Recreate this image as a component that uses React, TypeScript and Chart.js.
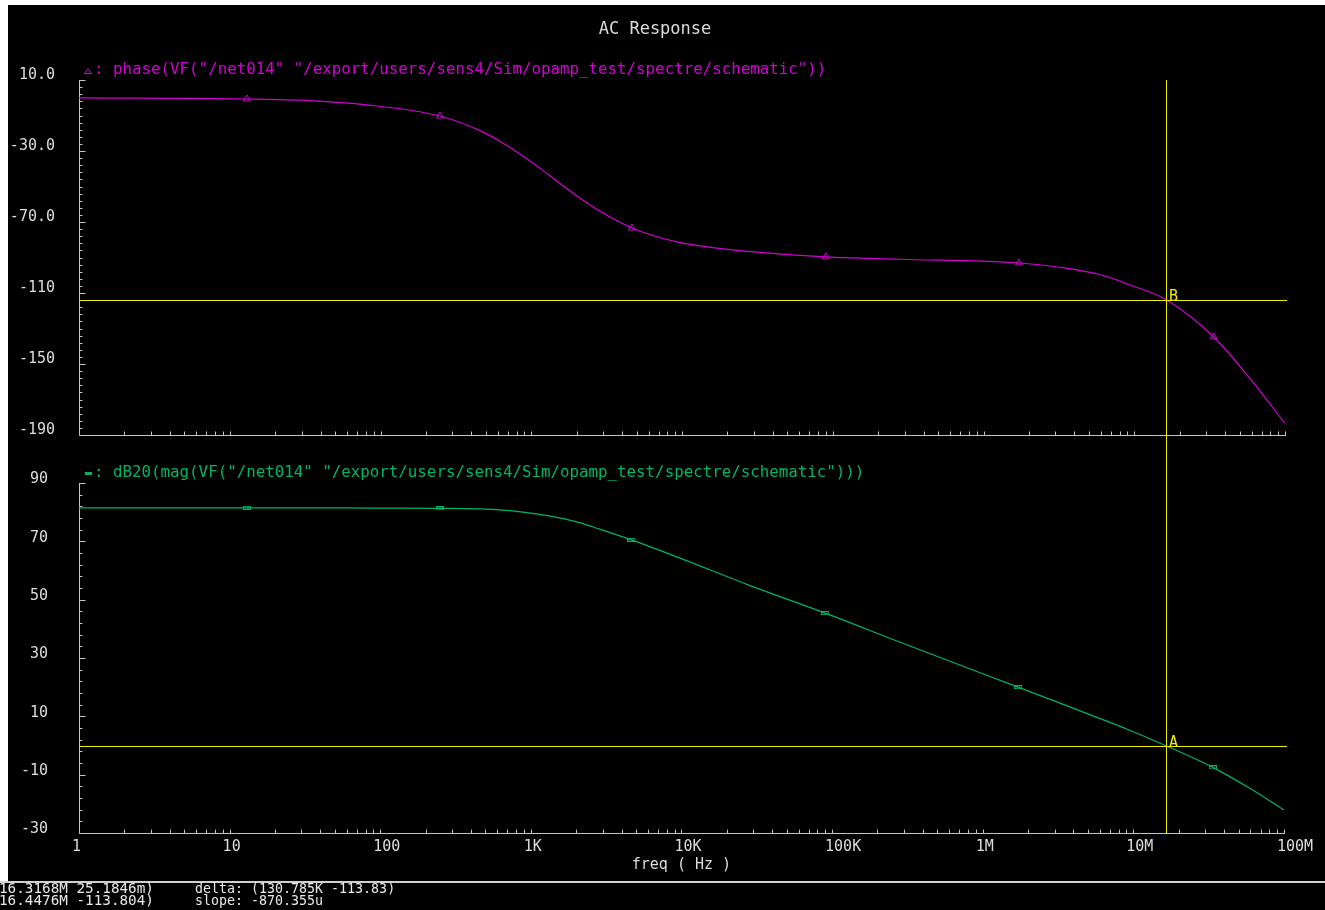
import React, { useEffect, useRef } from 'react';
import { Chart, registerables } from 'chart.js';

Chart.register(...registerables);

// ---------------- data ----------------
const freqHz = [1, 13, 34, 81, 248, 457, 620, 1000, 1330, 2100, 2860, 4660, 9600, 28000, 90000, 280000, 1720000, 3200000, 5900000, 9200000, 16316800, 33700000, 59000000, 100000000];
const phaseDeg = [-0.1, -0.7, -1.6, -4.0, -10.3, -18.5, -24.5, -36.0, -44.0, -56.5, -64.0, -73.4, -81.5, -86.6, -89.7, -91.0, -93.1, -95.5, -99.6, -105.2, -113.8, -134.8, -158.5, -183.5];
const magDb = [81.5, 81.5, 81.5, 81.4, 81.3, 81.1, 80.8, 79.7, 78.7, 76.4, 74.2, 70.5, 64.4, 55.0, 45.4, 35.5, 20.0, 14.7, 9.4, 5.5, 0.025, -7.5, -14.6, -22.1];
const markerFreqs = [13, 248, 4660, 90000, 1720000, 33700000];

const xTickValues = [1, 10, 100, 1e3, 1e4, 1e5, 1e6, 1e7, 1e8];
const xTickLabels = ['1', '10', '100', '1K', '10K', '100K', '1M', '10M', '100M'];
const phaseTicks = [10, -30, -70, -110, -150, -190];
const phaseTickLabels = ['10.0', '-30.0', '-70.0', '-110', '-150', '-190'];
const magTicks = [90, 70, 50, 30, 10, -10, -30];
const magTickLabels = ['90', '70', '50', '30', '10', '-10', '-30'];

const cursorFreq = 16316800;
const cursorPhase = -113.804;
const cursorMag = 0.0251846;

const titleText = 'AC Response';
const phaseLegend = ': phase(VF("/net014" "/export/users/sens4/Sim/opamp_test/spectre/schematic"))';
const magLegend = ': dB20(mag(VF("/net014" "/export/users/sens4/Sim/opamp_test/spectre/schematic")))';
const xTitle = 'freq ( Hz )';
const statusLeft = ['16.3168M 25.1846m)', '16.4476M -113.804)'];
const statusRight = ['delta: (130.785K -113.83)', 'slope: -870.355u'];

// ---------------- layout / style ----------------
const W = 1325;
const H = 905;
const LEFT = 79;
const RIGHT = 1285;
const PH_TOP = 75;
const PH_BOT = 430;
const MAG_TOP = 478;
const MAG_BOT = 828;
const XAXIS_H = 41;

const MONO = '"DejaVu Sans Mono", "Liberation Mono", monospace';
const AXIS_COLOR = '#c4c4c4';
const TEXT_COLOR = '#dcdcdc';
const PHASE_COLOR = '#d400d4';
const MAG_COLOR = '#00b464';
const CURSOR_COLOR = '#f0f000';

function drawAxes(chart: any, yId: string, minorStep: number, majors: number[]) {
  const ctx = chart.ctx;
  const { left, right, top, bottom } = chart.chartArea;
  const xs = chart.scales.x;
  const ys = chart.scales[yId];
  ctx.save();
  ctx.strokeStyle = AXIS_COLOR;
  ctx.lineWidth = 1;
  ctx.beginPath();
  const lx = Math.round(left) + 0.5;
  const by = Math.round(bottom) + 0.5;
  ctx.moveTo(lx, Math.round(top));
  ctx.lineTo(lx, by);
  ctx.lineTo(Math.round(right) + 1, by);
  for (let v = ys.min; v <= ys.max + 1e-9; v += minorStep) {
    const y = Math.round(ys.getPixelForValue(v)) + 0.5;
    const major = majors.some((m) => Math.abs(m - v) < 1e-6);
    ctx.moveTo(lx, y);
    ctx.lineTo(lx + (major ? 6 : 3), y);
  }
  for (let d = 0; d < xTickValues.length; d++) {
    for (let k = 1; k <= 9; k++) {
      const f = xTickValues[d] * k;
      if (f > xs.max * 1.0001) break;
      if (f === 1) continue;
      const x = Math.round(xs.getPixelForValue(f)) + 0.5;
      ctx.moveTo(x, by);
      ctx.lineTo(x, by - 4);
    }
  }
  ctx.stroke();
  ctx.restore();
}

let magChartRef: any = null;

function drawCursors(chart: any) {
  const ctx = chart.ctx;
  const { left, right, top } = chart.chartArea;
  const xs = chart.scales.x;
  const ys = chart.scales.y;
  const cx = Math.round(xs.getPixelForValue(cursorFreq));
  const cyP = Math.round(ys.getPixelForValue(cursorPhase));
  let cyM = cyP;
  let bottom = MAG_BOT;
  if (magChartRef) {
    cyM = Math.round(magChartRef.scales.y.getPixelForValue(cursorMag) + 0.5);
    bottom = magChartRef.chartArea.bottom;
  }
  const l = Math.round(left);
  const w = Math.round(right) + 2 - l;
  ctx.save();
  ctx.fillStyle = CURSOR_COLOR;
  ctx.fillRect(l, cyP, w, 1);
  ctx.fillRect(l, cyM, w, 1);
  ctx.fillRect(cx, Math.round(top), 1, Math.round(bottom) - Math.round(top));
  ctx.font = `15px ${MONO}`;
  ctx.textAlign = 'left';
  ctx.textBaseline = 'alphabetic';
  ctx.fillText('B', cx + 3, cyP + 1);
  ctx.fillText('A', cx + 3, cyM + 1);
  ctx.restore();
}

const phasePlugin = {
  id: 'phaseDecor',
  beforeDatasetsDraw(chart: any) {
    drawAxes(chart, 'y', 4, phaseTicks);
  },
  afterDatasetsDraw(chart: any) {
    const ctx = chart.ctx;
    drawCursors(chart);
    ctx.save();
    // title
    ctx.fillStyle = TEXT_COLOR;
    ctx.font = `17px ${MONO}`;
    ctx.textAlign = 'center';
    ctx.textBaseline = 'middle';
    ctx.fillText(titleText, 655, 25);

    // legend
    ctx.strokeStyle = PHASE_COLOR;
    ctx.lineWidth = 1;
    ctx.beginPath();
    ctx.moveTo(84.5, 68.5);
    ctx.lineTo(88, 63.5);
    ctx.lineTo(91.5, 68.5);
    ctx.closePath();
    ctx.stroke();
    ctx.fillStyle = PHASE_COLOR;
    ctx.font = `15.8px ${MONO}`;
    ctx.textAlign = 'left';
    ctx.textBaseline = 'alphabetic';
    ctx.fillText(phaseLegend, 94, 69);
    ctx.restore();
  },
};

const magPlugin = {
  id: 'magDecor',
  beforeDatasetsDraw(chart: any) {
    drawAxes(chart, 'y', 4, magTicks);
  },
  afterDatasetsDraw(chart: any) {
    const ctx = chart.ctx;
    ctx.save();
    // legend
    ctx.fillStyle = MAG_COLOR;
    ctx.fillRect(85, 467, 7, 3);
    ctx.font = `15.8px ${MONO}`;
    ctx.textAlign = 'left';
    ctx.textBaseline = 'alphabetic';
    ctx.fillText(magLegend, 94, 472);

    // status bar
    ctx.fillStyle = '#d0d0d0';
    ctx.fillRect(0, 876, W, 2);
    ctx.fillStyle = '#e8e8e8';
    ctx.font = `14.3px ${MONO}`;
    ctx.fillText(statusLeft[0], -1, 888);
    ctx.fillText(statusLeft[1], -1, 900);
    ctx.font = `13.3px ${MONO}`;
    ctx.fillText(statusRight[0], 195, 888);
    ctx.fillText(statusRight[1], 195, 900);
    ctx.restore();
  },
};

export default function App() {
  const phaseRef = useRef<HTMLCanvasElement>(null);
  const magRef = useRef<HTMLCanvasElement>(null);

  useEffect(() => {
    const rectMarker = document.createElement('canvas');
    rectMarker.width = 8;
    rectMarker.height = 4;
    const rc = rectMarker.getContext('2d')!;
    rc.strokeStyle = MAG_COLOR;
    rc.lineWidth = 1;
    rc.strokeRect(0.5, 0.5, 7, 3);

    const xLog = (showLabels: boolean, fitH: number) => ({
      type: 'logarithmic' as const,
      min: 1,
      max: 1e8,
      position: 'bottom' as const,
      grid: { display: false, drawTicks: false },
      border: { display: false },
      afterBuildTicks: (s: any) => {
        s.ticks = xTickValues.map((v) => ({ value: v }));
      },
      afterFit: (s: any) => {
        s.height = fitH;
      },
      ticks: {
        display: showLabels,
        autoSkip: false,
        maxRotation: 0,
        minRotation: 0,
        align: 'start' as const,
        labelOffset: -7,
        padding: 5,
        color: TEXT_COLOR,
        font: { family: MONO, size: 15 },
        callback: (_v: any, i: number) => xTickLabels[i] ?? '',
      },
      title: {
        display: showLabels,
        text: xTitle,
        color: TEXT_COLOR,
        font: { family: MONO, size: 15 },
        padding: { top: 0, bottom: 0 },
      },
    });

    const yLin = (min: number, max: number, ticks: number[], labels: string[], pad: number, off: number) => ({
      type: 'linear' as const,
      min,
      max,
      position: 'left' as const,
      grid: { display: false, drawTicks: false },
      border: { display: false },
      afterBuildTicks: (s: any) => {
        s.ticks = ticks.map((v) => ({ value: v }));
      },
      afterFit: (s: any) => {
        s.width = LEFT;
      },
      ticks: {
        autoSkip: false,
        padding: pad,
        labelOffset: off,
        color: TEXT_COLOR,
        font: { family: MONO, size: 15 },
        callback: (_v: any, i: number) => labels[i] ?? '',
      },
    });

    const magChart = new Chart(magRef.current!, {
      type: 'line',
      data: {
        datasets: [
          {
            data: freqHz.map((f, i) => ({ x: f, y: magDb[i] })),
            borderColor: MAG_COLOR,
            borderWidth: 1.2,
            cubicInterpolationMode: 'monotone',
            pointRadius: freqHz.map((f) => (markerFreqs.includes(f) ? 3 : 0)),
            pointStyle: rectMarker,
            pointBorderColor: MAG_COLOR,
            pointBackgroundColor: MAG_COLOR,
          },
        ],
      },
      options: {
        responsive: false,
        animation: false,
        events: [],
        layout: { padding: { left: 0, top: MAG_TOP, right: W - RIGHT, bottom: H - MAG_BOT - XAXIS_H } },
        plugins: { legend: { display: false }, tooltip: { enabled: false } },
        scales: {
          x: xLog(true, XAXIS_H) as any,
          y: yLin(-30, 90, magTicks, magTickLabels, 31, -3.5) as any,
        },
      },
      plugins: [magPlugin],
    });
    magChartRef = magChart;

    const phaseChart = new Chart(phaseRef.current!, {
      type: 'line',
      data: {
        datasets: [
          {
            data: freqHz.map((f, i) => ({ x: f, y: phaseDeg[i] })),
            borderColor: PHASE_COLOR,
            borderWidth: 1.2,
            cubicInterpolationMode: 'monotone',
            pointRadius: freqHz.map((f) => (markerFreqs.includes(f) ? 4 : 0)),
            pointStyle: 'triangle',
            pointBorderColor: PHASE_COLOR,
            pointBackgroundColor: 'rgba(0,0,0,0)',
            pointBorderWidth: 1,
          },
        ],
      },
      options: {
        responsive: false,
        animation: false,
        events: [],
        layout: { padding: { left: 0, top: PH_TOP, right: W - RIGHT, bottom: H - PH_BOT } },
        plugins: { legend: { display: false }, tooltip: { enabled: false } },
        scales: {
          x: xLog(false, 0) as any,
          y: yLin(-190, 10, phaseTicks, phaseTickLabels, 24, -4.5) as any,
        },
      },
      plugins: [phasePlugin],
    });

    return () => {
      phaseChart.destroy();
      magChart.destroy();
      magChartRef = null;
    };
  }, []);

  return (
    <div style={{ position: 'absolute', left: 0, top: 5, width: W, height: H, background: '#000', overflow: 'hidden' }}>
      <div style={{ position: 'absolute', left: 0, top: 0, width: 8, height: 876, background: '#fff' }} />
      <canvas ref={magRef} width={W} height={H} style={{ position: 'absolute', left: 0, top: 0 }} />
      <canvas ref={phaseRef} width={W} height={H} style={{ position: 'absolute', left: 0, top: 0 }} />
    </div>
  );
}
